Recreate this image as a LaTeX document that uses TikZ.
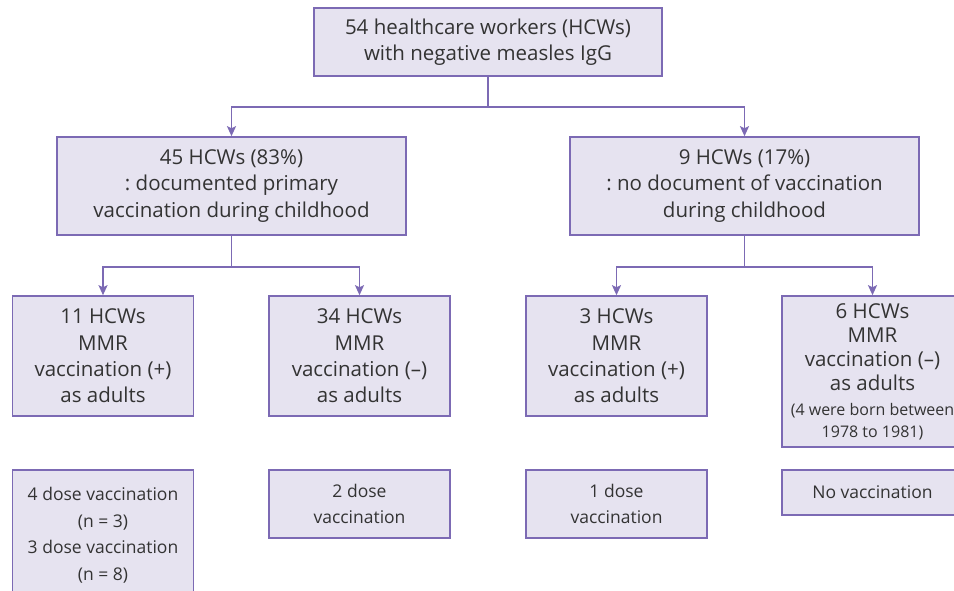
\documentclass[tikz,border=0pt]{standalone}
\usepackage{fontspec}
\setmainfont{Open Sans}
\frenchspacing
\usetikzlibrary{arrows.meta}
\definecolor{mlav}{RGB}{230, 227, 240}
\definecolor{mpurple}{RGB}{124, 106, 180}
\definecolor{mtext}{RGB}{51, 51, 51}
\tikzset{
  box/.style={draw=mpurple, fill=mlav, line width=1.6pt, text=mtext, align=center,
    inner sep=0pt, font=\fontsize{20.5}{26.3}\selectfont},
  widebox/.style={box, minimum width=349, minimum height=98},
  smallbox/.style={box, minimum width=181},
  link/.style={draw=mpurple, line width=1.6pt, -{Stealth[length=10pt, width=9pt, inset=2pt]}},
}

\begin{document}
\begin{tikzpicture}[x=1pt, y=-1pt]
      \useasboundingbox (0, 0) rectangle (954, 590);

      \node (top) at (488, 42) [box, minimum width=348, minimum height=68]
        {54 healthcare workers (HCWs)\\with negative measles IgG};

      \node (doc) at (231.5, 186) [widebox]
        {45 HCWs (83\%)\\: documented primary\\vaccination during childhood};
      \node (nodoc) at (744.5, 186) [widebox]
        {9 HCWs (17\%)\\: no document of vaccination\\during childhood};

      \node (docp) at (103, 356) [smallbox, minimum height=120]
        {11 HCWs\\MMR\\vaccination (+)\\as adults};
      \node (docm) at (359.5, 356) [smallbox, minimum height=120]
        {34 HCWs\\MMR\\vaccination (--)\\as adults};
      \node (nodocp) at (616.5, 356) [smallbox, minimum height=120]
        {3 HCWs\\MMR\\vaccination (+)\\as adults};
      \node (nodocm) at (872.5, 371.5) [smallbox, minimum height=151, font=\fontsize{20.5}{24}\selectfont]
        {6 HCWs\\MMR\\vaccination (--)\\as adults\\[1pt]
         {\fontsize{16}{22}\selectfont (4 were born between}\\[-2pt]
         {\fontsize{16}{22}\selectfont 1978 to 1981)}};

      \node (dosefour) at (103, 535) [smallbox, minimum height=130, font=\fontsize{17.5}{26.5}\selectfont]
        {4 dose vaccination\\(n = 3)\\3 dose vaccination\\(n = 8)};
      \node (dosetwo) at (359.5, 504) [smallbox, minimum height=68, font=\fontsize{17.5}{26.5}\selectfont]
        {2 dose\\vaccination};
      \node (doseone) at (616.5, 504) [smallbox, minimum height=68, font=\fontsize{17.5}{26.5}\selectfont]
        {1 dose\\vaccination};
      \node (dosenone) at (872.5, 492.5) [smallbox, minimum height=45, font=\fontsize{17.5}{26.5}\selectfont]
        {No vaccination};

      \draw [link] (top.south) -- +(0, 30) -| (doc.north);
      \draw [link] (top.south) -- +(0, 30) -| (nodoc.north);

      \draw [link] (doc.south) -- +(0, 31) -| (docp.north);
      \draw [link] (doc.south) -- +(0, 31) -| (docm.north);

      \draw [link] (nodoc.south) -- +(0, 31) -| (nodocp.north);
      \draw [link] (nodoc.south) -- +(0, 31) -| (nodocm.north);
    \end{tikzpicture}
\end{document}
